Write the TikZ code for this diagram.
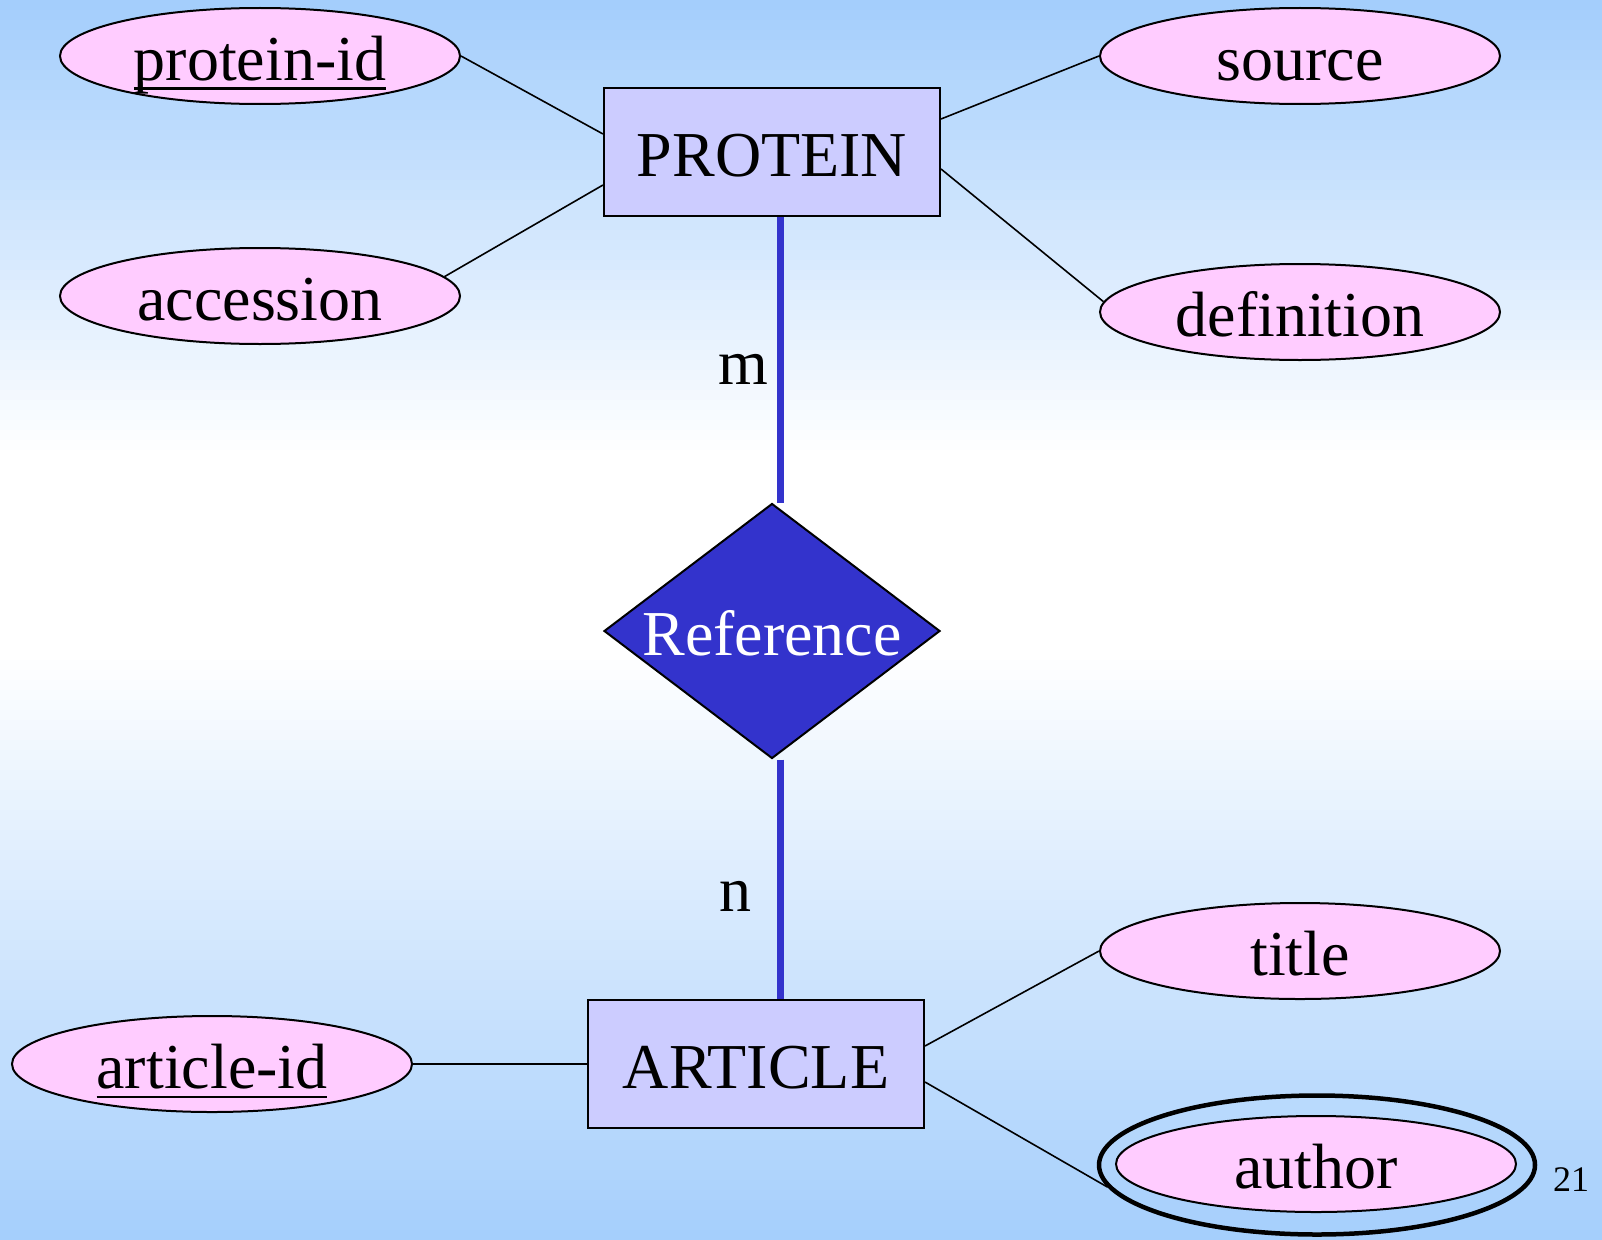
\documentclass[tikz,border=0pt]{standalone}
\usepackage{fontspec}
\setmainfont{Liberation Serif}
\usetikzlibrary{shapes.geometric}

\definecolor{attrpink}{RGB}{255,204,255}
\definecolor{entlilac}{RGB}{204,204,255}
\definecolor{relblue}{RGB}{51,51,204}
\definecolor{skyblue}{RGB}{164,206,252}

% key attribute: underline at a fixed depth
\newcommand{\keyattr}[1]{\setbox0\hbox{#1}\rlap{\rule[-10pt]{\wd0}{2.5pt}}\box0}

\pgfdeclarelayer{back}
\pgfdeclarelayer{links}
\pgfsetlayers{back,links,main}

\tikzset{
  label text/.style = {font = \fontsize{64}{70}\selectfont,
      text height = 50pt,
      text depth = 2pt},
  attr/.style = {ellipse,
      draw = black,
      line width = 2pt,
      fill = attrpink,
      inner sep = 0pt,
      minimum width = 400pt,
      minimum height = 96pt,
      label text},
  entity/.style = {rectangle,
      draw = black,
      line width = 2pt,
      fill = entlilac,
      inner sep = 0pt,
      minimum width = 336pt,
      minimum height = 128pt,
      label text},
  attrline/.style = {draw = black, line width = 1.6pt},
  relline/.style = {draw = relblue, line width = 7pt}
}

\begin{document}
\begin{tikzpicture}[x = 1pt, y = -1pt]
\useasboundingbox (0,0) rectangle (1602,1239);

% background, blue to white to blue
\begin{pgfonlayer}{back}
  \foreach \i in {0,...,123} {
    \pgfmathsetmacro{\y}{\i*10}
    \pgfmathsetmacro{\t}{max(0, (450-\y)/4.5, (\y-650)/5.89)}
    \fill[skyblue!\t!white] (0,\y) rectangle (1602,\y+10.5);
  }
\end{pgfonlayer}

% entities
\node[entity] (protein) at (772,152) {PROTEIN};
\node[entity] (article) at (756,1064) {ARTICLE};

% relationship
\node[diamond,
    draw = black,
    line width = 2pt,
    fill = relblue,
    text = white,
    inner sep = 0pt,
    aspect = 1.32,
    minimum width = 336pt,
    minimum height = 255pt,
    label text] (rel) at (772,631) {Reference};

% attributes of protein
\node[attr] (pid) at (260,56) {\keyattr{protein-id}};
\node[attr] (acc) at (260,296) {accession};
\node[attr] (src) at (1300,56) {source};
\node[attr] (def) at (1300,312) {definition};

% attributes of article
\node[attr] (aid) at (212,1064) {\keyattr{article-id}};
\node[attr] (title) at (1300,951) {title};
\node[attr] (author) at (1316,1164) {author};
\node[ellipse,
    draw = black,
    line width = 4.5pt,
    inner sep = 0pt,
    minimum width = 436pt,
    minimum height = 139pt] (authorbox) at (1317,1165) {};

% cardinalities
\node[anchor = base, font = \fontsize{64}{70}\selectfont] (m) at (743,384) {m};
\node[anchor = base, font = \fontsize{64}{70}\selectfont] (n) at (735,911) {n};

\node[anchor = base, font = \fontsize{36}{40}\selectfont] (page) at (1571,1191) {21};

\begin{pgfonlayer}{links}
  \draw[relline] ([xshift = 8pt]protein.south) -- ([xshift = 8pt]rel.north);
  \draw[relline] ([xshift = 8pt]rel.south) -- ([xshift = 8pt]rel.south |- article.north);

  \draw[attrline] (pid.east) -- ([yshift = 18pt]protein.west);
  \draw[attrline] (acc.6) -- ([yshift = -33pt]protein.west);
  \draw[attrline] ([yshift = 33pt]protein.east) -- (src.west);
  \draw[attrline] ([yshift = -17pt]protein.east) -- (def.177);

  \draw[attrline] (aid.east) -- (article.west);
  \draw[attrline] ([yshift = 18pt]article.east) -- (title.west);
  \draw[attrline] ([yshift = -18pt]article.east) -- (authorbox.186);
\end{pgfonlayer}

\end{tikzpicture}
\end{document}
